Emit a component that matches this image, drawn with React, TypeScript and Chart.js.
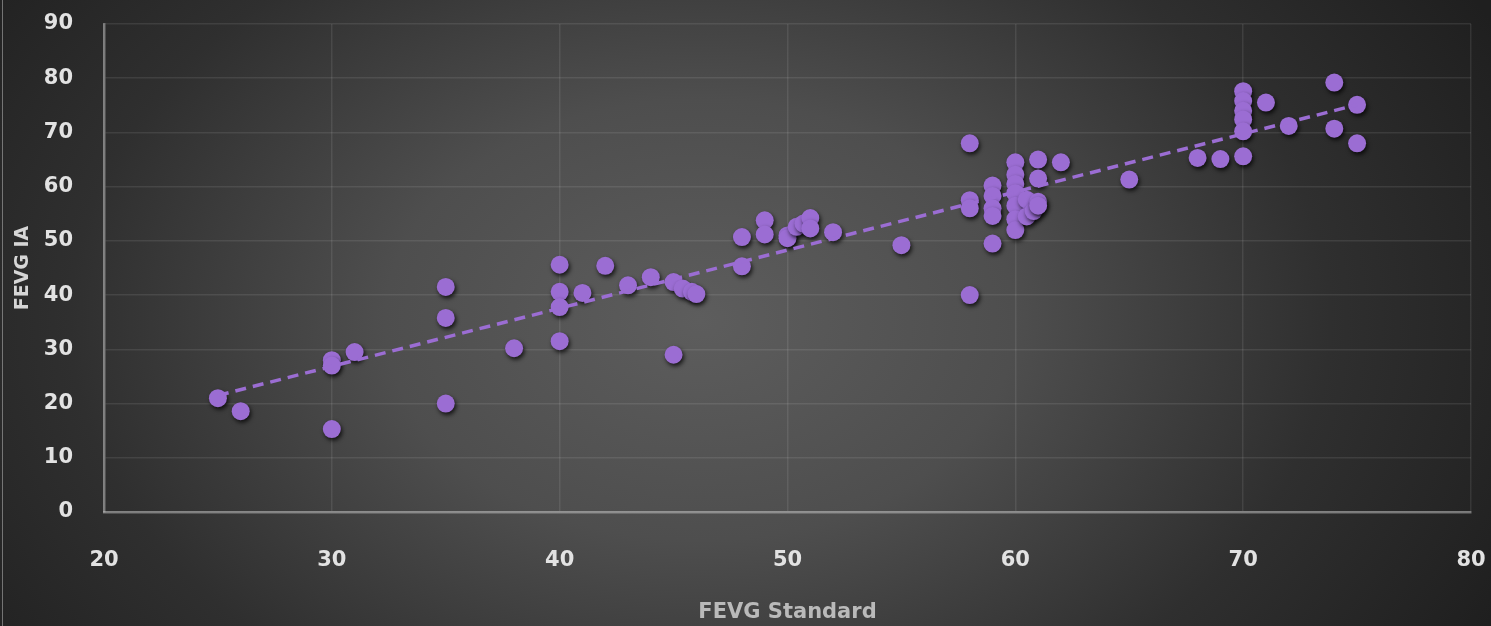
import React, { useEffect, useRef } from "react";
import { Chart, registerables } from "chart.js";

Chart.register(...registerables);

// FEVG Standard (x) and FEVG IA (y)
const fevgStandard = [
  25, 26, 30, 30, 31, 30, 35, 35, 35, 38,
  40, 40, 40, 40, 41, 42, 43, 44, 45, 45,
  45.4, 45.8, 46, 48, 48, 49, 49, 50, 50, 50.4,
  50.7, 51, 51, 52, 55, 58, 58, 58, 58, 59,
  59, 59, 59, 59, 60, 60, 60, 60, 60, 60,
  60, 60.5, 60.5, 60.8, 61, 61, 61, 61, 62, 65,
  68, 69, 70, 70, 70, 70, 70, 70, 71, 72,
  74, 74, 75, 75,
];
const fevgIA = [
  21, 18.6, 28, 27, 29.5, 15.3, 41.5, 35.8, 20, 30.2,
  45.6, 40.6, 37.8, 31.5, 40.4, 45.4, 41.8, 43.3, 42.4, 29,
  41.2, 40.6, 40.2, 50.7, 45.3, 53.8, 51.2, 51, 50.5, 52.6,
  53.2, 54.2, 52.3, 51.6, 49.2, 68, 57.5, 56, 40, 60.2,
  58.3, 56, 54.6, 49.5, 64.5, 62.2, 60.5, 58.8, 56.5, 54,
  52, 57.6, 54.5, 55.5, 65, 61.5, 57.2, 56.5, 64.5, 61.3,
  65.3, 65.1, 77.6, 75.8, 74, 72.4, 70.2, 65.6, 75.5, 71.2,
  79.2, 70.7, 75.1, 68,
];

// dashed linear trend line, end points
const trendX = [25, 75];
const trendY = [21.5, 75.1];

// axis ranges and tick step
const xRange = [20, 80];
const yRange = [0, 90];
const tickStep = 10;

const xTitle = "FEVG Standard";
const yTitle = "FEVG IA";

const PURPLE = "#9b6dd3";
const FONT = "'DejaVu Sans', 'Open Sans', sans-serif";

const bgPlugin = {
  id: "bgPlugin",
  beforeDraw(chart: any) {
    const { ctx, width, height } = chart;
    ctx.save();
    ctx.fillStyle = "#1f1f1f";
    ctx.fillRect(0, 0, width, height);
    const cx = 700;
    const cy = 320;
    const sy = 0.7;
    ctx.translate(cx, cy);
    ctx.scale(1, sy);
    const g = ctx.createRadialGradient(0, 0, 0, 0, 0, 900);
    g.addColorStop(0, "#5d5d5d");
    g.addColorStop(0.35, "#4e4e4e");
    g.addColorStop(0.7, "#2f2f2f");
    g.addColorStop(1, "#1f1f1f");
    ctx.fillStyle = g;
    ctx.fillRect(-cx, -cy / sy, width, height / sy);
    ctx.restore();
    ctx.save();
    ctx.strokeStyle = "rgba(170,170,170,0.6)";
    ctx.lineWidth = 1;
    ctx.beginPath();
    ctx.moveTo(2.5, 0);
    ctx.lineTo(2.5, height);
    ctx.stroke();
    ctx.restore();
  },
};

const shadowPlugin = {
  id: "shadowPlugin",
  beforeDatasetDraw(chart: any, args: any) {
    if (args.index !== 1) return;
    const ctx = chart.ctx;
    ctx.save();
    ctx.shadowColor = "rgba(0,0,0,0.75)";
    ctx.shadowBlur = 4;
    ctx.shadowOffsetX = 1.5;
    ctx.shadowOffsetY = 2.5;
  },
  afterDatasetDraw(chart: any, args: any) {
    if (args.index !== 1) return;
    chart.ctx.restore();
  },
};

const noScalePadding = (s: any) => {
  s.paddingTop = 0;
  s.paddingBottom = 0;
  s.paddingLeft = 0;
  s.paddingRight = 0;
};

export default function App() {
  const canvasRef = useRef<HTMLCanvasElement | null>(null);

  useEffect(() => {
    document.body.style.margin = "0";
    const canvas = canvasRef.current;
    if (!canvas) return;
    const points = fevgStandard.map((x, i) => ({ x, y: fevgIA[i] }));
    const trend = trendX.map((x, i) => ({ x, y: trendY[i] }));

    const chart = new Chart(canvas, {
      type: "scatter",
      data: {
        datasets: [
          {
            type: "line",
            label: "Trend",
            data: trend,
            borderColor: PURPLE,
            borderWidth: 3.5,
            borderDash: [11, 7],
            pointRadius: 0,
            fill: false,
            order: 0,
          } as any,
          {
            label: "FEVG",
            data: points,
            backgroundColor: PURPLE,
            borderColor: PURPLE,
            borderWidth: 0,
            pointRadius: 9,
            pointHoverRadius: 9,
            order: 1,
          },
        ],
      },
      options: {
        responsive: false,
        animation: false,
        devicePixelRatio: 1,
        layout: { padding: { left: 4, right: 20, top: 24, bottom: 0 } },
        plugins: {
          legend: { display: false },
          tooltip: { enabled: false },
        },
        scales: {
          x: {
            type: "linear",
            min: xRange[0],
            max: xRange[1],
            afterFit: (s: any) => {
              s.height = 114;
              noScalePadding(s);
            },
            ticks: {
              stepSize: tickStep,
              padding: 36,
              color: "#e2e2e2",
              font: { family: FONT, size: 21, weight: "bold" },
            },
            grid: {
              color: "rgba(255,255,255,0.09)",
              lineWidth: 1.5,
              drawTicks: false,
            },
            border: { color: "rgba(210,210,210,0.45)", width: 2.5 },
            title: {
              display: true,
              text: xTitle,
              color: "#bababa",
              font: { family: FONT, size: 21, weight: "bold" },
              padding: { top: 0, bottom: 1 },
            },
          },
          y: {
            type: "linear",
            min: yRange[0],
            max: yRange[1],
            afterFit: (s: any) => {
              s.width = 100;
              noScalePadding(s);
            },
            ticks: {
              stepSize: tickStep,
              padding: 31,
              color: "#e2e2e2",
              font: { family: FONT, size: 21, weight: "bold" },
            },
            grid: {
              color: "rgba(255,255,255,0.09)",
              lineWidth: 1.5,
              drawTicks: false,
            },
            border: { color: "rgba(210,210,210,0.45)", width: 2.5 },
            title: {
              display: true,
              text: yTitle,
              color: "#d6d6d6",
              font: { family: FONT, size: 19, weight: "bold" },
              padding: { top: 8, bottom: 0 },
            },
          },
        },
      },
      plugins: [bgPlugin, shadowPlugin],
    });

    return () => chart.destroy();
  }, []);

  return (
    <div style={{ width: 1491, height: 626 }}>
      <canvas ref={canvasRef} width={1491} height={626} style={{ display: "block" }} />
    </div>
  );
}
